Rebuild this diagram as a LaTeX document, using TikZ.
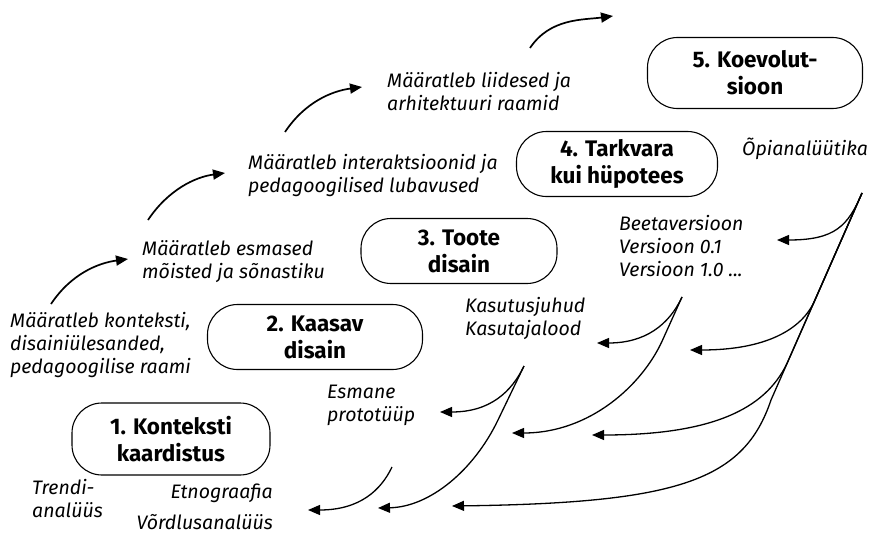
\documentclass[tikz,border=0pt]{standalone}
\usepackage{fontspec}
\setmainfont{Fira Sans}
\usetikzlibrary{arrows.meta}

\begin{document}
\begin{tikzpicture}[x=1pt, y=-1pt,
    phase/.style={draw, line width=1.1pt, rounded corners=30pt, align=center,
      inner sep=0pt, font=\fontsize{22.5}{27}\selectfont\bfseries},
    note/.style={align=left, inner sep=0pt, font=\fontsize{19.5}{23}\selectfont\itshape},
    stair/.style={line width=1.7pt, -{Triangle[length=12pt,width=10pt]}},
    feed/.style={line width=1.3pt, -{Triangle[length=12pt,width=10pt]}}]
  \useasboundingbox (0,0) rectangle (875,535);

  % Phases
  \node[phase, minimum width=198pt, minimum height=72pt] (box1) at (171,439) {1. Konteksti\\kaardistus};
  \node[phase, minimum width=215pt, minimum height=65pt] (box2) at (315,337) {2. Kaasav\\disain};
  \node[phase, minimum width=196pt, minimum height=65pt] (box3) at (459,251) {3. Toote\\disain};
  \node[phase, minimum width=201pt, minimum height=65pt] (box4) at (617,164) {4. Tarkvara\\kui hüpotees};
  \node[phase, minimum width=215pt, minimum height=71pt] (box5) at (755,73) {5. Koevolut-\\sioon};

  % What each phase defines
  \node[note, anchor=west] (ctx) at (10,345) {Määratleb konteksti,\\disainiülesanded,\\pedagoogilise raami};
  \node[note, anchor=west] (esm) at (142,262) {Määratleb esmased\\mõisted ja sõnastiku};
  \node[note, anchor=west] (inter) at (248,175) {Määratleb interaktsioonid ja\\pedagoogilised lubavused};
  \node[note, anchor=west] (lii) at (387,92) {Määratleb liidesed ja\\arhitektuuri raamid};

  % Outputs of the phases
  \node[note, anchor=west] (opi) at (742,149) {Õpianalüütika};
  \node[note, anchor=west] (beeta) at (619,246) {Beetaversioon\\Versioon 0.1\\Versioon 1.0 ...};
  \node[note, anchor=west] (kasut) at (465,318) {Kasutusjuhud\\Kasutajalood};
  \node[note, anchor=west] (esmane) at (327,405) {Esmane\\prototüüp};
  \node[note, anchor=west] (trendi) at (32,499) {Trendi-\\analüüs};
  \node[note, anchor=east] (etno) at (273,493) {Etnograafia};
  \node[note, anchor=east] (vord) at (273,522) {Võrdlusanalüüs};

  % Ends of the upward arrows
  \coordinate (s1) at (51,304);  \coordinate (t1) at (128,259);
  \coordinate (s2) at (148,220); \coordinate (t2) at (225,173);
  \coordinate (s3) at (285,132); \coordinate (t3) at (362,87);
  \coordinate (s4) at (530,48);  \coordinate (t4) at (613,16);

  % Upward arrows
  \foreach \i in {1,...,4}
    \draw[stair] (s\i) .. controls +(20,-30) and +(-30,4) .. (t\i);

  % Tops of the feedback fans
  \coordinate (fanA) at (862,193);
  \coordinate (fanB) at (682,297);
  \coordinate (fanC) at (524,366);
  \coordinate (fanD) at (392,467);

  % Feedback tips
  \coordinate (a1) at (777,240); \coordinate (a2) at (690,350);
  \coordinate (a3) at (592,435); \coordinate (a4) at (452,506);
  \coordinate (b1) at (597,343); \coordinate (b2) at (512,433);
  \coordinate (c1) at (440,412); \coordinate (c2) at (378,508);
  \coordinate (d1) at (308,510);

  % Fan from Koevolutsioon
  \draw[feed] (fanA) .. controls (848,226) and (835,240) .. (a1);
  \draw[feed] (fanA) -- (815,300) .. controls (802,330) and (765,350) .. (a2);
  \draw[feed] (fanA) -- (788.5,360) .. controls (769,405) and (720,435) .. (a3);
  \draw[feed] (fanA) -- (771,400) .. controls (744,480) and (680,503) .. (a4);

  % Fan from Tarkvara
  \draw[feed] (fanB) .. controls (669,325) and (645,343) .. (b1);
  \draw[feed] (fanB) -- (662.6,340) .. controls (642.4,385) and (590,433) .. (b2);

  % Fan from Toote disain
  \draw[feed] (fanC) .. controls (511.5,392) and (490,412) .. (c1);
  \draw[feed] (fanC) -- (498,420) .. controls (474,470) and (430,507) .. (c2);

  % Fan from Kaasav disain
  \draw[feed] (fanD) .. controls (381,490) and (360,510) .. (d1);
\end{tikzpicture}
\end{document}
